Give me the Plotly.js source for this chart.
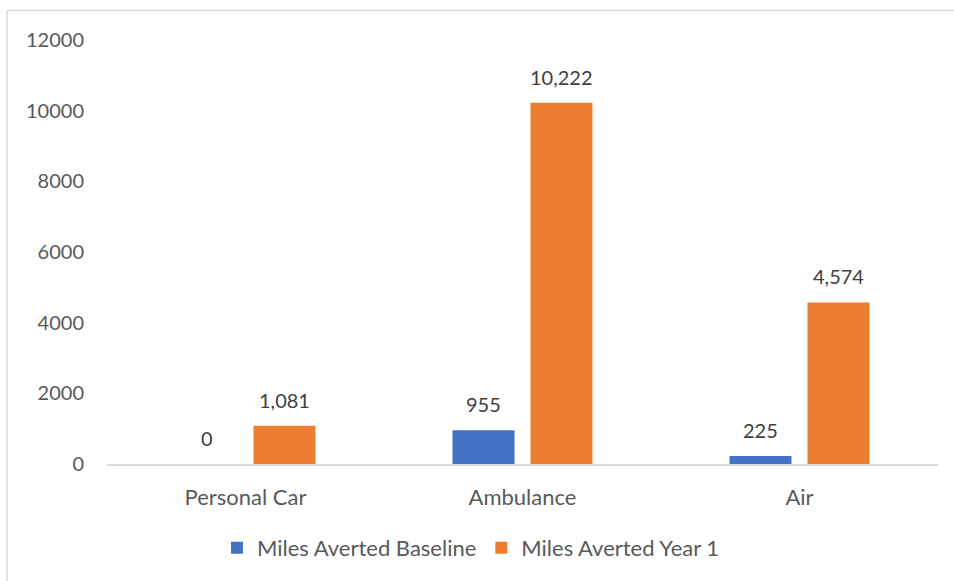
<!DOCTYPE html>
<html>
<head>
<meta charset="utf-8">
<script src="https://cdn.plot.ly/plotly-3.0.1.min.js"></script>
<style>
  html, body { margin: 0; padding: 0; background: #fff; }
  #chart { width: 954px; height: 581px; }
</style>
</head>
<body>
<div id="chart"></div>
<script>
// Transport categories and miles averted per scenario
const categories = ['Personal Car', 'Ambulance', 'Air'];
const baselineValues = [0, 955, 225];
const year1Values = [1081, 10222, 4574];
const seriesNames = ['Miles Averted Baseline', 'Miles Averted Year 1'];
const yTickValues = [0, 2000, 4000, 6000, 8000, 10000, 12000];

const BLUE = '#4472C4';
const ORANGE = '#ED7D31';
const FONT = 'Lato, "Open Sans", sans-serif';

const fmt = v => v.toLocaleString('en-US');

const traces = [
  { type: 'bar', name: seriesNames[0], x: categories, y: baselineValues,
    marker: { color: BLUE }, hoverinfo: 'x+y' },
  { type: 'bar', name: seriesNames[1], x: categories, y: year1Values,
    marker: { color: ORANGE }, hoverinfo: 'x+y' }
];

// Value labels above each bar, offset within its group slot
const annotations = [];
[baselineValues, year1Values].forEach((vals, s) => {
  vals.forEach((v, i) => {
    annotations.push({
      x: categories[i], y: v, xref: 'x', yref: 'y',
      text: fmt(v), showarrow: false,
      xshift: s === 0 ? -39 : 39, yshift: 26, yanchor: 'middle',
      font: { family: FONT, size: 20, color: '#404040' }
    });
  });
});

const layout = {
  width: 954, height: 581,
  margin: { l: 107, r: 16, t: 40, b: 117 },
  paper_bgcolor: '#fff', plot_bgcolor: '#fff',
  barmode: 'group', bargap: 0.437, bargroupgap: 0.205,
  showlegend: true,
  legend: {
    orientation: 'h', x: 0.438, xanchor: 'center', y: -0.198, yanchor: 'middle',
    font: { family: FONT, size: 22, color: '#595959' },
    itemwidth: 30, traceorder: 'normal'
  },
  xaxis: {
    type: 'category', showgrid: false, zeroline: false,
    showline: true, linecolor: '#D9D9D9', linewidth: 2,
    ticks: '', ticklabelstandoff: 13,
    tickfont: { family: FONT, size: 22, color: '#595959' }
  },
  yaxis: {
    range: [0, 12000], tickvals: yTickValues, ticktext: yTickValues.map(String),
    showgrid: false, zeroline: false, showline: false, ticks: '',
    ticklabelstandoff: 22,
    tickfont: { family: FONT, size: 20, color: '#595959' }
  },
  annotations: annotations,
  shapes: [
    // chart frame: top and left edges
    { type: 'line', xref: 'paper', yref: 'paper', x0: -0.1203, x1: 1.02, y0: 1.0696, y1: 1.0696,
      line: { color: '#D9D9D9', width: 1.5 } },
    { type: 'line', xref: 'paper', yref: 'paper', x0: -0.1203, x1: -0.1203, y0: 1.0696, y1: -0.28,
      line: { color: '#D9D9D9', width: 1.5 } }
  ]
};

Plotly.newPlot('chart', traces, layout, { displayModeBar: false, staticPlot: true });
</script>
</body>
</html>
